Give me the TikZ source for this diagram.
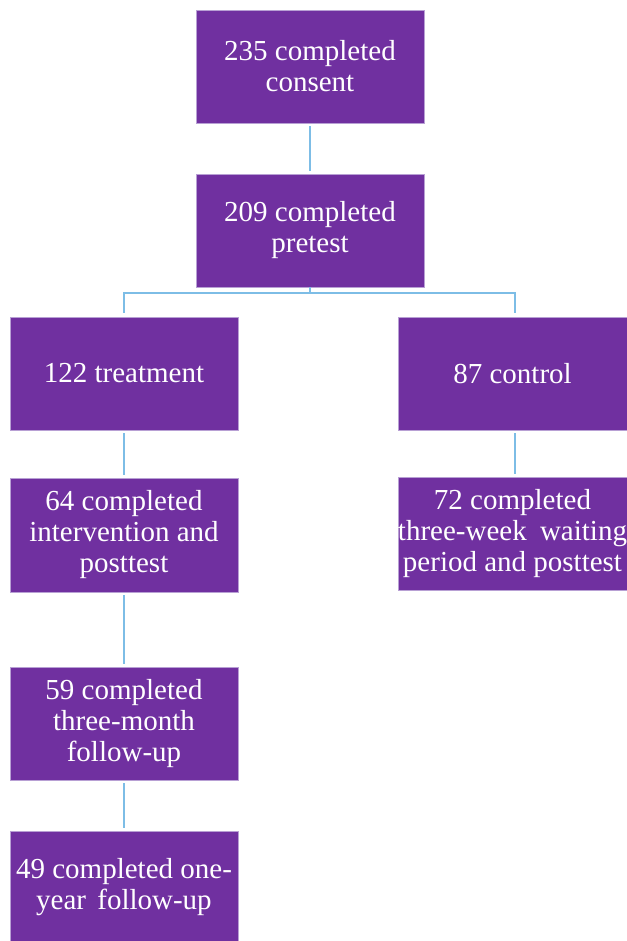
\documentclass[tikz,border=0pt]{standalone}
\usepackage{fontspec}
\setmainfont{Liberation Serif}
\definecolor{boxpurple}{HTML}{7030A0}
\definecolor{boxedge}{HTML}{B8A0D4}
\definecolor{connblue}{HTML}{7DBDE6}
\begin{document}
\begin{tikzpicture}[x=1pt,y=-1pt,
  flowbox/.style={rectangle, fill=boxpurple, draw=boxedge, line width=0.8pt,
    minimum width=228pt, minimum height=113pt, inner sep=0pt, text=white,
    align=center, font=\fontsize{29}{31}\selectfont},
  conn/.style={draw=connblue, line width=2pt, shorten <=3pt, shorten >=3pt},
  bracket/.style={draw=connblue, line width=2pt}]
\useasboundingbox (0,0) rectangle (626,941);
\node[flowbox] (b1) at (310,66.5) {235 completed\\consent};
\node[flowbox] (b2) at (310,230.5) {209 completed\\pretest};
\node[flowbox] (b3) at (124,373.5) {122 treatment};
\node[flowbox, minimum width=229pt] (b4) at (512.5,373.5) {87 control};
\node[flowbox, minimum height=114pt] (b5) at (124,535) {64 completed\\intervention and\\posttest};
\node[flowbox, minimum width=229pt] (b6) at (512.5,533.5) {72 completed\\three-week\hspace{6pt} waiting\\period and posttest};
\node[flowbox] (b7) at (124,723.5) {59 completed\\three-month\\follow-up};
\node[flowbox, minimum height=112pt] (b8) at (124,887) {49 completed one-\\year\hspace{4pt} follow-up};
\draw[conn] (b1) -- (b2);
\draw[bracket] (b2.south) -- ++(0,6) coordinate (split);
\draw[bracket] (split) -| ([yshift=4pt]b3.north);
\draw[bracket] (split) -| ([xshift=2.5pt,yshift=4pt]b4.north);
\draw[conn] (b3) -- (b5);
\draw[conn] ([xshift=2.5pt]b4.south) -- ([xshift=2.5pt]b6.north);
\draw[conn] (b5) -- (b7);
\draw[conn] (b7) -- (b8);
\end{tikzpicture}
\end{document}
